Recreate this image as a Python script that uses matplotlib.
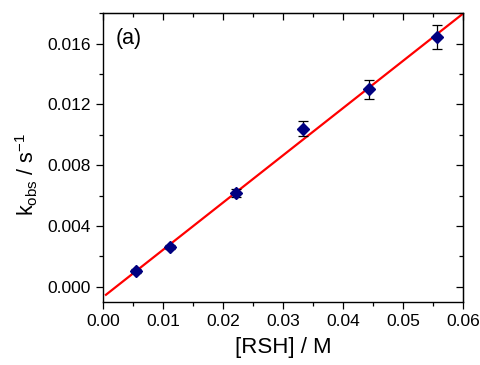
import matplotlib
matplotlib.use("Agg")
import matplotlib.pyplot as plt
import numpy as np
from matplotlib.ticker import MultipleLocator

plt.rcParams['font.family'] = ['Liberation Sans', 'DejaVu Sans']
plt.rcParams['mathtext.fontset'] = 'custom'
plt.rcParams['mathtext.rm'] = 'Liberation Sans'
plt.rcParams['mathtext.it'] = 'Liberation Sans:italic'

conc = [0.00556, 0.0111, 0.0222, 0.0333, 0.0444, 0.0556]
kobs = [0.00105, 0.00262, 0.00615, 0.01040, 0.01298, 0.01645]
kerr = [0.00012, 0.00015, 0.00025, 0.00050, 0.00065, 0.00080]
fit_slope = 0.3108
fit_intercept = -0.00068
fit_range = [0.0005, 0.0605]

xticks = [0.0, 0.01, 0.02, 0.03, 0.04, 0.05, 0.06]
xticklabels = ['0.00', '0.01', '0.02', '0.03', '0.04', '0.05', '0.06']
yticks = [0.0, 0.004, 0.008, 0.012, 0.016]
yticklabels = ['0.000', '0.004', '0.008', '0.012', '0.016']

fig = plt.figure(figsize=(4.81, 3.65), dpi=100)
ax = fig.add_axes([0.214, 0.1726, 0.7486, 0.7914])

xf = np.array(fit_range)
ax.plot(xf, fit_slope * xf + fit_intercept, color='red', lw=1.6, zorder=2)
ax.errorbar(conc, kobs, yerr=kerr, fmt='D', color='#000080', ms=6,
            ecolor='black', elinewidth=0.9, capsize=3.5, capthick=0.9, zorder=3)

ax.set_xlim(0.0, 0.06)
ax.set_ylim(-0.001, 0.018)
ax.set_xticks(xticks)
ax.set_xticklabels(xticklabels)
ax.set_yticks(yticks)
ax.set_yticklabels(yticklabels)
ax.xaxis.set_minor_locator(MultipleLocator(0.005))
ax.yaxis.set_minor_locator(MultipleLocator(0.002))

ax.tick_params(which='both', direction='out', labelsize=12.5, width=0.9)
ax.tick_params(which='major', length=5)
ax.tick_params(which='minor', length=3)

axt = ax.secondary_xaxis('top')
axt.set_xticks(xticks)
axt.xaxis.set_minor_locator(MultipleLocator(0.005))
axt.tick_params(which='both', direction='in', labeltop=False, width=0.9)
axt.tick_params(which='major', length=5)
axt.tick_params(which='minor', length=3)
axr = ax.secondary_yaxis('right')
axr.set_yticks(yticks)
axr.yaxis.set_minor_locator(MultipleLocator(0.002))
axr.tick_params(which='both', direction='in', labelright=False, width=0.9)
axr.tick_params(which='major', length=5)
axr.tick_params(which='minor', length=3)

for s in ax.spines.values():
    s.set_linewidth(1.0)

ax.set_xlabel('[RSH] / M', fontsize=16, labelpad=6)
ax.set_ylabel(r'k$_{\mathregular{obs}}$ / s$^{\mathregular{-1}}$', fontsize=15.5)
ax.yaxis.set_label_coords(-0.175, 0.44)
ax.text(0.036, 0.913, '(a)', transform=ax.transAxes, fontsize=15.5, va='center')

fig.savefig('out.png', dpi=100)
